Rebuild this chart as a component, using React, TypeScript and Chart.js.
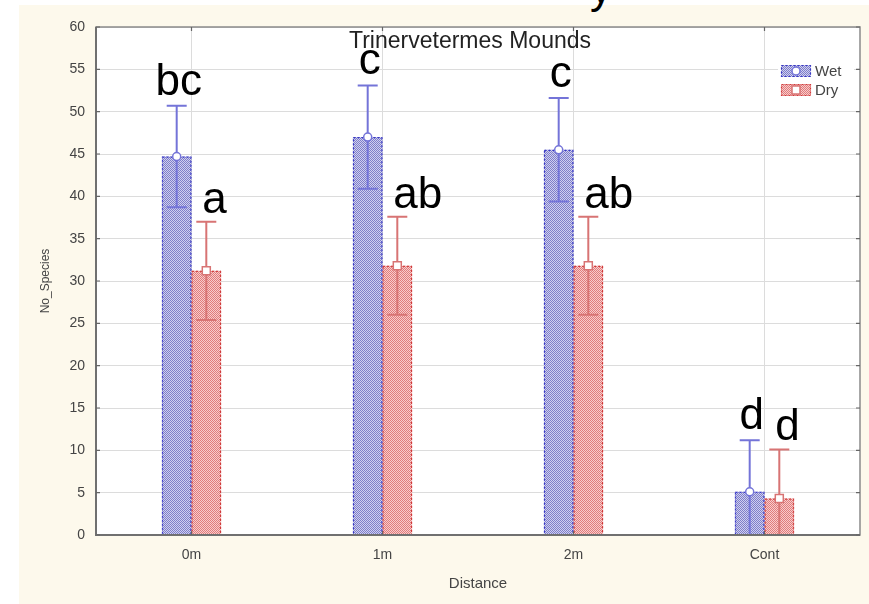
import React, { useEffect, useRef } from 'react';
import { Chart, registerables } from 'chart.js';

Chart.register(...registerables);

const categories = ['0m', '1m', '2m', 'Cont'];
const wetMeans = [44.7, 47.0, 45.5, 5.1];
const wetErrors = [6.0, 6.1, 6.1, 6.1];
const dryMeans = [31.2, 31.8, 31.8, 4.3];
const dryErrors = [5.8, 5.8, 5.8, 5.8];
const wetLetters = ['bc', 'c', 'c', 'd'];
const dryLetters = ['a', 'ab', 'ab', 'd'];
const seriesNames = ['Wet', 'Dry'];
const yMin = 0;
const yMax = 60;
const yStep = 5;
const chartTitle = 'Trinervetermes Mounds';
const xTitle = 'Distance';
const yTitle = 'No_Species';

const FONT = '"Liberation Sans", Arial, sans-serif';

const seriesStyles = [
  { base: '#cfcff0', dot: '#7f7fc8', border: '#3a3ac8', error: '#7474d8', marker: 'circle' },
  { base: '#f8cccc', dot: '#e07c7c', border: '#d03a3a', error: '#d87474', marker: 'square' },
];

function makePattern(base: string, dot: string): CanvasPattern | string {
  const c = document.createElement('canvas');
  c.width = 4;
  c.height = 4;
  const g = c.getContext('2d');
  if (!g) return base;
  g.fillStyle = base;
  g.fillRect(0, 0, 4, 4);
  g.fillStyle = dot;
  for (let yy = 0; yy < 4; yy++) {
    for (let xx = 0; xx < 4; xx++) {
      if ((xx + yy) % 2 === 0) g.fillRect(xx, yy, 1, 1);
    }
  }
  const p = g.createPattern(c, 'repeat');
  return p || base;
}

function drawMarker(ctx: CanvasRenderingContext2D, kind: string, x: number, y: number, color: string) {
  ctx.save();
  ctx.fillStyle = '#ffffff';
  ctx.strokeStyle = color;
  ctx.lineWidth = 1.5;
  ctx.setLineDash([]);
  ctx.beginPath();
  if (kind === 'circle') {
    ctx.arc(x, y, 4, 0, Math.PI * 2);
  } else {
    ctx.rect(x - 4, y - 4, 8, 8);
  }
  ctx.fill();
  ctx.stroke();
  ctx.restore();
}

export default function App() {
  const canvasRef = useRef<HTMLCanvasElement | null>(null);

  useEffect(() => {
    const canvas = canvasRef.current;
    if (!canvas) return;
    const patterns = seriesStyles.map((s) => makePattern(s.base, s.dot));
    const errors = [wetErrors, dryErrors];
    const letters = [wetLetters, dryLetters];

    const plotPlugin = {
      id: 'statisticaLook',
      beforeDraw(chart: any) {
        const { ctx, chartArea: a } = chart;
        ctx.save();
        ctx.fillStyle = '#ffffff';
        ctx.fillRect(a.left, a.top, a.right - a.left, a.bottom - a.top);
        ctx.restore();
      },
      afterDatasetsDraw(chart: any) {
        const { ctx, chartArea: a } = chart;
        const ys = chart.scales.y;
        const xs = chart.scales.x;
        ctx.save();
        ctx.beginPath();
        ctx.rect(a.left, a.top, a.right - a.left, a.bottom - a.top);
        ctx.clip();
        chart.data.datasets.forEach((ds: any, di: number) => {
          const meta = chart.getDatasetMeta(di);
          const st = seriesStyles[di];
          meta.data.forEach((bar: any) => {
            const p = bar.getProps(['x', 'y', 'base', 'width'], true);
            ctx.save();
            ctx.setLineDash([2, 2]);
            ctx.strokeStyle = st.border;
            ctx.lineWidth = 1.2;
            ctx.strokeRect(p.x - p.width / 2 + 0.6, p.y + 0.6, p.width - 1.2, p.base - p.y);
            ctx.restore();
          });
        });
        ctx.restore();

        // frame
        ctx.save();
        ctx.strokeStyle = '#8a8a8a';
        ctx.lineWidth = 1.5;
        ctx.strokeRect(a.left, a.top, a.right - a.left, a.bottom - a.top);
        ctx.strokeStyle = '#707070';
        ctx.lineWidth = 2;
        ctx.beginPath();
        ctx.moveTo(a.left, a.top);
        ctx.lineTo(a.left, a.bottom);
        ctx.lineTo(a.right, a.bottom);
        ctx.stroke();
        ctx.strokeStyle = '#666666';
        ctx.lineWidth = 1.2;
        ctx.beginPath();
        ys.ticks.forEach((t: any) => {
          const py = ys.getPixelForValue(t.value);
          ctx.moveTo(a.left, py);
          ctx.lineTo(a.left + 4, py);
          ctx.moveTo(a.right, py);
          ctx.lineTo(a.right - 4, py);
        });
        categories.forEach((_, i) => {
          const px = xs.getPixelForValue(i);
          ctx.moveTo(px, a.bottom);
          ctx.lineTo(px, a.bottom - 4);
          ctx.moveTo(px, a.top);
          ctx.lineTo(px, a.top + 4);
        });
        ctx.stroke();
        ctx.restore();

        // error bars + markers
        ctx.save();
        ctx.beginPath();
        ctx.rect(a.left, a.top, a.right - a.left, a.bottom - a.top - 1);
        ctx.clip();
        chart.data.datasets.forEach((ds: any, di: number) => {
          const meta = chart.getDatasetMeta(di);
          const st = seriesStyles[di];
          meta.data.forEach((bar: any, i: number) => {
            const x = bar.getProps(['x'], true).x;
            const mean = ds.data[i];
            const err = errors[di][i];
            const yHi = ys.getPixelForValue(mean + err);
            const yLo = ys.getPixelForValue(mean - err);
            ctx.save();
            ctx.strokeStyle = st.error;
            ctx.lineWidth = 2;
            ctx.beginPath();
            ctx.moveTo(x, yHi);
            ctx.lineTo(x, yLo);
            ctx.moveTo(x - 10, yHi);
            ctx.lineTo(x + 10, yHi);
            ctx.moveTo(x - 10, yLo);
            ctx.lineTo(x + 10, yLo);
            ctx.stroke();
            ctx.restore();
            drawMarker(ctx, st.marker, x, ys.getPixelForValue(mean), st.error);
          });
        });
        ctx.restore();

        // significance letters
        ctx.save();
        ctx.fillStyle = '#000000';
        ctx.font = `44px ${FONT}`;
        ctx.textBaseline = 'alphabetic';
        chart.data.datasets.forEach((ds: any, di: number) => {
          const meta = chart.getDatasetMeta(di);
          meta.data.forEach((bar: any, i: number) => {
            const x = bar.getProps(['x'], true).x;
            const top = ys.getPixelForValue(ds.data[i] + errors[di][i]);
            if (di === 0) {
              ctx.textAlign = 'center';
              ctx.fillText(letters[di][i], x + 2, top - 11);
            } else {
              ctx.textAlign = 'left';
              ctx.fillText(letters[di][i], x - 4, top - 9);
            }
          });
        });
        ctx.restore();

        // title inside plot
        ctx.save();
        ctx.fillStyle = '#222222';
        ctx.font = `23px ${FONT}`;
        ctx.textAlign = 'center';
        ctx.textBaseline = 'middle';
        ctx.fillText(chartTitle, (a.left + a.right) / 2 - 8, a.top + 15);
        ctx.restore();

        // legend inside plot
        ctx.save();
        const lx = a.right - 79;
        const ly0 = a.top + 38;
        ctx.fillStyle = '#ffffff';
        ctx.fillRect(lx - 3, ly0 - 4, 76, 38);
        seriesNames.forEach((name, di) => {
          const st = seriesStyles[di];
          const ly = ly0 + di * 19;
          ctx.fillStyle = patterns[di] as any;
          ctx.fillRect(lx, ly, 30, 12);
          ctx.save();
          ctx.setLineDash([2, 2]);
          ctx.strokeStyle = st.border;
          ctx.lineWidth = 1.2;
          ctx.strokeRect(lx + 0.5, ly + 0.5, 29, 11);
          ctx.restore();
          drawMarker(ctx, st.marker, lx + 15, ly + 6, st.error);
          ctx.fillStyle = '#444444';
          ctx.font = `15px ${FONT}`;
          ctx.textAlign = 'left';
          ctx.textBaseline = 'middle';
          ctx.fillText(name, lx + 34, ly + 7);
        });
        ctx.restore();
      },
    };

    const chart = new Chart(canvas, {
      type: 'bar',
      data: {
        labels: categories,
        datasets: [
          {
            label: seriesNames[0],
            data: wetMeans,
            backgroundColor: patterns[0] as any,
            borderWidth: 0,
            categoryPercentage: 0.31,
            barPercentage: 1,
          },
          {
            label: seriesNames[1],
            data: dryMeans,
            backgroundColor: patterns[1] as any,
            borderWidth: 0,
            categoryPercentage: 0.31,
            barPercentage: 1,
          },
        ],
      },
      options: {
        animation: false,
        responsive: false,
        devicePixelRatio: 1,
        layout: { padding: { left: 38, right: 9, top: 27, bottom: 0 } },
        plugins: {
          legend: { display: false },
          title: { display: false },
          tooltip: { enabled: false },
        },
        scales: {
          x: {
            offset: true,
            grid: { offset: false, color: '#dcdcdc', lineWidth: 1, drawTicks: false },
            border: { display: false },
            ticks: { color: '#444444', font: { family: FONT, size: 14 }, padding: 12 },
            title: {
              display: true,
              text: xTitle,
              color: '#444444',
              font: { family: FONT, size: 15 },
              padding: { top: 0, bottom: 11 },
            },
            afterFit: (s: any) => {
              s.height = 69;
            },
          },
          y: {
            min: yMin,
            max: yMax,
            grid: { color: '#dcdcdc', lineWidth: 1, drawTicks: false },
            border: { display: false },
            ticks: {
              stepSize: yStep,
              color: '#444444',
              font: { family: FONT, size: 14 },
              padding: 11,
            },
            title: {
              display: true,
              text: yTitle,
              color: '#444444',
              font: { family: FONT, size: 12 },
              padding: { top: 0, bottom: 0 },
            },
            afterFit: (s: any) => {
              s.width = 58;
            },
          },
        },
      },
      plugins: [plotPlugin],
    });

    return () => {
      chart.destroy();
    };
  }, []);

  return (
    <div
      style={{
        position: 'fixed',
        left: 0,
        top: 0,
        width: 869,
        height: 604,
        background: '#ffffff',
        overflow: 'hidden',
      }}
    >
      <div
        style={{
          position: 'absolute',
          left: 19,
          top: 5,
          width: 850,
          height: 599,
          background: '#fdf9ec',
        }}
      />
      <span
        style={{
          position: 'absolute',
          left: 590,
          top: -34,
          fontFamily: FONT,
          fontSize: 44,
          lineHeight: '44px',
          color: '#000000',
        }}
      >
        y
      </span>
      <canvas
        ref={canvasRef}
        width={869}
        height={604}
        style={{ position: 'absolute', left: 0, top: 0, width: 869, height: 604 }}
      />
    </div>
  );
}
